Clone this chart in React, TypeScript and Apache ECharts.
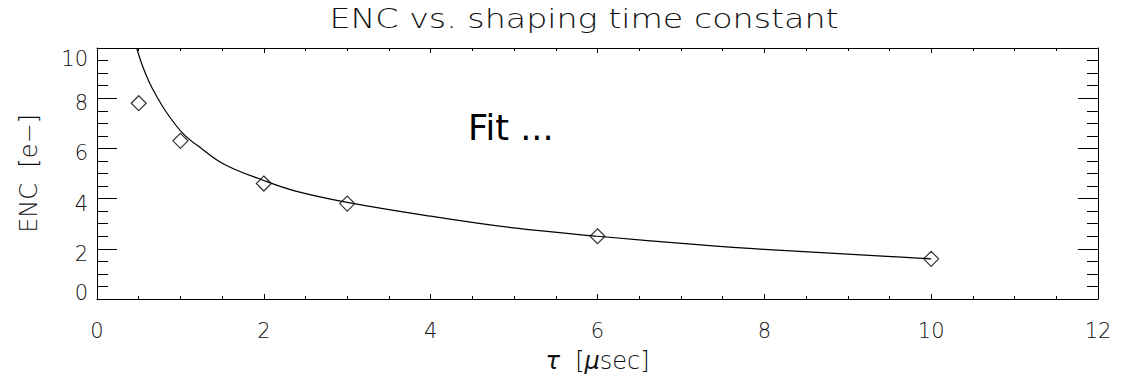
import React, { useEffect, useRef } from "react";
import * as echarts from "echarts";

const measuredTau = [0.5, 1, 2, 3, 6, 10];
const measuredEnc = [7.8, 6.3, 4.6, 3.8, 2.5, 1.6];

const fitTau = [0.476, 0.536, 0.615, 0.716, 0.836, 1.035, 1.255, 1.535, 2.0, 2.37, 3, 4, 5, 6, 7.2, 8, 9.47, 10];
const fitEnc = [10.0, 9.37, 8.72, 8.07, 7.42, 6.58, 5.99, 5.35, 4.72, 4.31, 3.85, 3.3, 2.83, 2.5, 2.17, 1.98, 1.7, 1.6];

const titleText = "ENC vs. shaping time constant";
const annotation = "Fit ...";

const FONT = "DejaVu Sans";
const INK = "#000";
const TXT = "#111";

export default function App() {
  const ref = useRef<HTMLDivElement>(null);
  useEffect(() => {
    if (!ref.current) return;
    const chart = echarts.init(ref.current, undefined, { renderer: "svg", width: 1127, height: 378 });
    const axisLine = { show: true, onZero: false, lineStyle: { color: INK, width: 1 } };
    const xTick = { show: true, inside: true, length: 5, lineStyle: { color: INK } };
    const xMinor = { show: true, splitNumber: 4, length: 3, lineStyle: { color: INK } };
    const yTick = { show: true, inside: true, length: 20, lineStyle: { color: INK } };
    const yMinor = { show: true, splitNumber: 4, length: 11, lineStyle: { color: INK } };
    const lbl = { fontFamily: FONT, fontSize: 21, color: TXT, fontWeight: 200 };
    chart.setOption({
      animation: false,
      grid: { left: 97, right: 29, top: 48, bottom: 73, containLabel: false },
      xAxis: [
        {
          type: "value",
          min: 0,
          max: 12,
          interval: 2,
          position: "bottom",
          axisLine,
          axisTick: xTick,
          minorTick: xMinor,
          splitLine: { show: false },
          axisLabel: { ...lbl, margin: 21 },
          name: "{i|τ}  [{i|μ}sec]",
          nameLocation: "middle",
          nameGap: 50,
          nameTextStyle: {
            ...lbl,
            fontSize: 24,
            rich: {
              i: { fontFamily: FONT, fontSize: 24, fontStyle: "italic", color: TXT, fontWeight: 200 },
            },
          },
        },
        {
          type: "value",
          min: 0,
          max: 12,
          interval: 2,
          position: "top",
          axisLine,
          axisTick: xTick,
          minorTick: xMinor,
          splitLine: { show: false },
          axisLabel: { show: false },
        },
      ],
      yAxis: [
        {
          type: "value",
          min: 0,
          max: 10,
          interval: 2,
          position: "left",
          axisLine,
          axisTick: yTick,
          minorTick: yMinor,
          splitLine: { show: false },
          axisLabel: {
            ...lbl,
            margin: 9,
            formatter: (v: number) =>
              v === 0 ? "{b|0}" : v === 10 ? "{t|10}" : "{n|" + v + "}",
            rich: {
              b: { ...lbl, padding: [0, 0, 12, 0] },
              t: { ...lbl, padding: [22, 0, 0, 0] },
              n: { ...lbl, padding: [10, 0, 0, 0] },
            },
          },
          name: "ENC  [e−]",
          nameLocation: "middle",
          nameGap: 56,
          nameRotate: 90,
          nameTextStyle: { ...lbl, fontSize: 24 },
        },
        {
          type: "value",
          min: 0,
          max: 10,
          interval: 2,
          position: "right",
          axisLine,
          axisTick: yTick,
          minorTick: yMinor,
          splitLine: { show: false },
          axisLabel: { show: false },
        },
      ],
      graphic: [
        {
          type: "text",
          x: 584,
          y: 19,
          scaleX: 1.28,
          style: {
            text: titleText,
            fontFamily: FONT,
            fontSize: 26,
            fontWeight: 200,
            fill: TXT,
            align: "center",
            verticalAlign: "middle",
          },
        },
        {
          type: "text",
          left: 468,
          top: 110,
          style: {
            text: annotation,
            fontFamily: FONT,
            fontSize: 35,
            fill: "#000",
          },
        },
      ],
      series: [
        {
          type: "line",
          data: fitTau.map((t, i) => [t, fitEnc[i]]),
          smooth: 0.4,
          showSymbol: false,
          symbol: "none",
          clip: true,
          lineStyle: { color: INK, width: 1.2 },
        },
        {
          type: "scatter",
          data: measuredTau.map((t, i) => [t, measuredEnc[i]]),
          symbol: "diamond",
          symbolSize: 15,
          itemStyle: { color: "transparent", borderColor: INK, borderWidth: 1.2 },
        },
      ],
    });
    return () => chart.dispose();
  }, []);
  return (
    <div
      ref={ref}
      style={{ position: "fixed", left: 0, top: 0, width: 1127, height: 378, background: "#fff" }}
    />
  );
}
